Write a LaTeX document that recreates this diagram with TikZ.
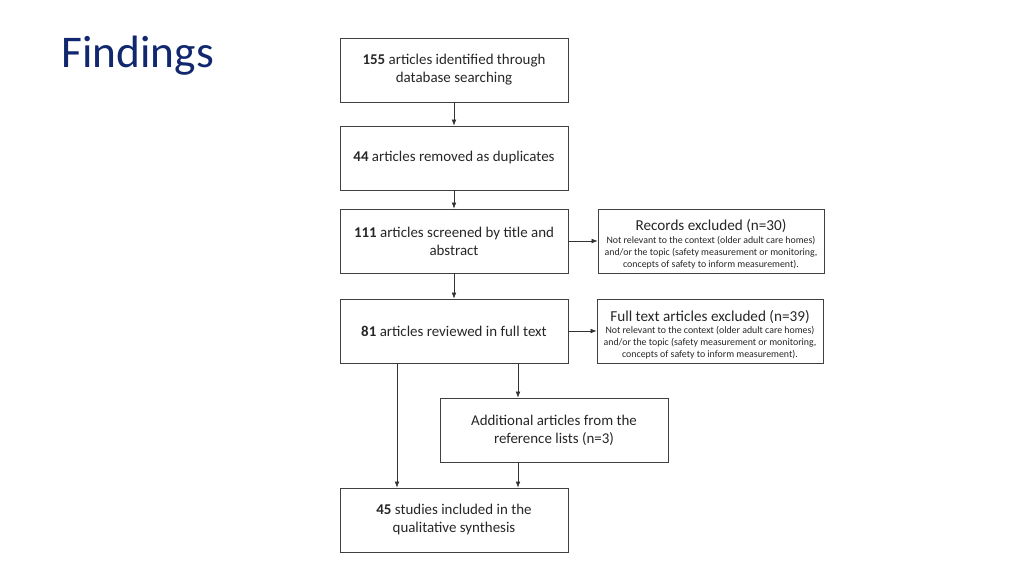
\documentclass[tikz,border=0pt]{standalone}
\usepackage{fontspec}
\setmainfont{Carlito}
\usetikzlibrary{arrows.meta}
\definecolor{titleblue}{HTML}{12286E}
\definecolor{boxline}{HTML}{404040}
\newcommand{\exhead}[1]{\rule{0pt}{13pt}{\fontsize{11.4}{13}\selectfont #1}\\[0.5pt]}
\begin{document}
\begin{tikzpicture}[x=0.75pt, y=-0.75pt,
    flowbox/.style={draw=boxline, line width=0.6pt, minimum width=171pt, minimum height=48pt,
        align=center, inner sep=2pt, font=\fontsize{11.2}{13.5}\selectfont, text=black!85},
    exclbox/.style={flowbox, minimum width=169.5pt, inner sep=1pt, font=\fontsize{7.4}{9}\selectfont},
    flowarrow/.style={-{Latex[length=4.5pt, width=3.5pt]}, line width=0.5pt, draw=black!80}]
    \useasboundingbox (0, 0) rectangle (1024, 576);

    % Titel
    \node[anchor=west, text=titleblue, font=\fontsize{34}{40}\selectfont] (title) at (57, 56) {Findings};

    % Hauptspalte
    \node[flowbox] (ident) at (454, 70) {\textbf{155} articles identified through\\database searching};
    \node[flowbox] (dupl) at (454, 158) {\textbf{44} articles removed as duplicates};
    \node[flowbox] (screen) at (454, 241) {\textbf{111} articles screened by title and\\abstract};
    \node[flowbox] (full) at (454, 331) {\textbf{81} articles reviewed in full text};
    \node[flowbox] (addit) at (554, 430) {Additional articles from the\\reference lists (n=3)};
    \node[flowbox] (incl) at (454, 520) {\textbf{45} studies included in the\\qualitative synthesis};

    % Ausschluesse
    \node[exclbox] (recex) at (711, 241) {\exhead{Records excluded (n=30)}
        Not relevant to the context (older adult care homes)\\
        and/or the topic (safety measurement or monitoring,\\
        concepts of safety to inform measurement).};
    \node[exclbox] (fullex) at (710, 331.5) {\exhead{Full text articles excluded (n=39)}
        Not relevant to the context (older adult care homes)\\
        and/or the topic (safety measurement or monitoring,\\
        concepts of safety to inform measurement).};

    % Pfeile
    \coordinate (leftline) at (397, 0);
    \coordinate (rightline) at (518, 0);
    \draw[flowarrow] (ident) -- (dupl);
    \draw[flowarrow] (dupl) -- (screen);
    \draw[flowarrow] (screen) -- (full);
    \draw[flowarrow] (screen) -- (recex);
    \draw[flowarrow] (full) -- (full -| fullex.west);
    \draw[flowarrow] (full.south -| leftline) -- (incl.north -| leftline);
    \draw[flowarrow] (full.south -| rightline) -- (addit.north -| rightline);
    \draw[flowarrow] (addit.south -| rightline) -- (incl.north -| rightline);
\end{tikzpicture}
\end{document}
